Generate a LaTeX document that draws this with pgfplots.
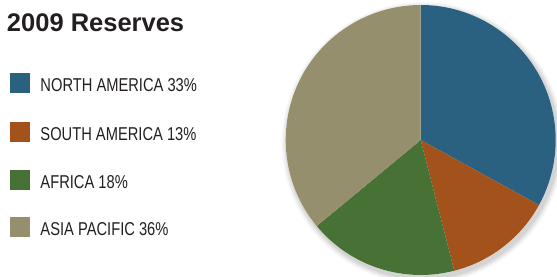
\documentclass[border=0pt]{standalone}
\usepackage{pgfplots}
\pgfplotsset{compat=1.18}
\usepackage{pgfplotstable}
\usepackage{fontspec}
\setmainfont{Liberation Sans}
\newfontfamily\cond{Liberation Sans}[FakeStretch=0.79]
\definecolor{na}{RGB}{43,97,128}
\definecolor{sa}{RGB}{163,82,27}
\definecolor{af}{RGB}{71,113,53}
\definecolor{ap}{RGB}{150,143,109}
\definecolor{txt}{RGB}{35,31,32}
% shares in percent
\pgfplotstableread{
region pct
NA 33
SA 13
AF 18
AP 36
}\reserves
\newcommand{\slice}[3]{% start angle, percent, colour
  \fill[#3] (axis cs:0,0) -- +(#1:135bp) arc[start angle=#1, end angle={#1-3.6*#2}, radius=135bp] -- cycle;}
\begin{document}
\begin{tikzpicture}[x=1bp,y=1bp]
\path[use as bounding box] (0,0) rectangle (557,276);
% title
\node[anchor=base west, inner sep=0, text=txt, font=\fontsize{25.5bp}{28bp}\selectfont\bfseries] at (6.8,245) {2009 Reserves};
% legend
\foreach \y/\c/\t in {192.7/na/{NORTH AMERICA 33\%}, 144.3/sa/{SOUTH AMERICA 13\%}, 96/af/{AFRICA 18\%}, 49/ap/{ASIA PACIFIC 36\%}}{
  \fill[\c] (9.7,\y-10) rectangle (29.7,\y+10);
  \node[anchor=base west, inner sep=0, text=txt, font=\cond\fontsize{18.6bp}{20bp}\selectfont] at (40.3,\y-8.4) {\t};
}
\begin{axis}[at={(420.7bp,136bp)}, anchor=center, scale only axis, width=270bp, height=270bp,
  xmin=-1, xmax=1, ymin=-1, ymax=1, hide axis, clip=false]
  % soft shadow
  \fill[black, opacity=0.03] (axis cs:0,0) ++(2bp,-3bp) circle[radius=141bp];
  \fill[black, opacity=0.04] (axis cs:0,0) ++(2bp,-3bp) circle[radius=139.5bp];
  \fill[black, opacity=0.05] (axis cs:0,0) ++(2bp,-3bp) circle[radius=138bp];
  \fill[black, opacity=0.06] (axis cs:0,0) ++(2bp,-3bp) circle[radius=136.5bp];
  \fill[white] (axis cs:0,0) circle[radius=135bp];
  \slice{90}{33}{na}
  \slice{90-3.6*33}{13}{sa}
  \slice{90-3.6*46}{18}{af}
  \slice{90-3.6*64}{36}{ap}
\end{axis}
\end{tikzpicture}
\end{document}
